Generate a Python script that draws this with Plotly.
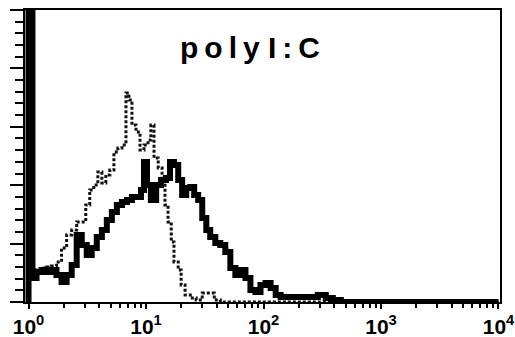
import plotly.graph_objects as go

# Fluorescence intensity (log scale) and event counts
solid_x = [1.0, 1.0, 1.08, 1.17, 1.29, 1.43, 1.57, 1.73, 1.91, 2.11, 2.33, 2.57, 2.84, 3.13,
           3.45, 3.81, 4.21, 4.64, 5.12, 5.65, 6.24, 6.88, 7.59, 8.38, 9.06, 9.61, 10.2,
           11.0, 12.2, 13.4, 14.8, 16.0, 17.3, 18.8, 20.3, 22.0, 23.8, 25.7, 27.8, 30.1,
           32.6, 35.2, 38.9, 42.9, 47.3, 52.2, 57.6, 63.6, 70.2, 77.4, 85.4, 94.3, 104,
           115, 127, 140, 170, 207, 252, 290, 339, 389, 455, 10000]
solid_y = [0, 300, 20.5, 25.7, 27.4, 25.7, 27.4, 23.1, 17.1, 23.1, 31.7, 57.4, 48.8, 40.2,
           46.2, 55.7, 61.6, 70.2, 77.1, 83.1, 85.6, 87.3, 89.9, 89.9, 95.9, 119.9, 100.2,
           87.3, 100.2, 104.5, 106.2, 119.9, 117.3, 104.5, 91.6, 97.6, 98.5, 91.6, 87.3,
           71.9, 61.6, 55.7, 50.5, 48.8, 42.8, 29.1, 23.1, 27.4, 20.5, 10.3, 8.6, 14.6,
           16.3, 12.0, 6.0, 4.3, 4.3, 4.3, 4.3, 6.0, 3.4, 1.7, 0, 0]

dotted_x = [1.0, 1.0, 1.08, 1.17, 1.29, 1.43, 1.57, 1.73, 1.91, 2.11, 2.33, 2.57, 2.84,
            3.07, 3.32, 3.59, 3.89, 4.21, 4.55, 4.92, 5.33, 5.76, 6.24, 6.75, 7.16, 7.59,
            8.22, 8.89, 9.61, 10.4, 11.0, 11.7, 12.7, 13.7, 14.5, 15.4, 16.4, 17.3, 18.8,
            19.9, 21.5, 23.8, 26.7, 30.1, 33.9, 38.1, 42.9, 10000]
dotted_y = [0, 300, 23.1, 27.4, 29.1, 30.0, 30.8, 34.2, 46.2, 57.4, 61.6, 68.5, 68.5,
            83.1, 95.9, 100.2, 111.3, 101.9, 108.7, 113.0, 128.4, 131.9, 134.4, 178.9,
            172.9, 151.5, 145.6, 130.1, 134.4, 138.7, 151.5, 123.3, 114.7, 104.5, 83.1,
            68.5, 51.4, 34.2, 27.4, 14.6, 6.0, 3.4, 1.7, 7.7, 7.7, 1.7, 0, 0]

x_tickvals = [1, 10, 100, 1000, 10000]
x_ticktext = ["<b>10<sup>0</sup></b>", "<b>10<sup>1</sup></b>", "<b>10<sup>2</sup></b>",
              "<b>10<sup>3</sup></b>", "<b>10<sup>4</sup></b>"]
title_text = "p\u2009o\u2009l\u2009y I\u2009:\u2009C"

fig = go.Figure()
fig.add_trace(go.Scatter(x=dotted_x, y=dotted_y, mode="lines", line_shape="hv",
                         line=dict(color="#111111", width=3, dash="3px,2px"),
                         showlegend=False, hoverinfo="skip"))
fig.add_trace(go.Scatter(x=solid_x, y=solid_y, mode="lines", line_shape="hv",
                         line=dict(color="black", width=6),
                         showlegend=False, hoverinfo="skip"))

fig.update_layout(
    width=515, height=337,
    margin=dict(l=25, r=15, t=10, b=35, autoexpand=False),
    plot_bgcolor="white", paper_bgcolor="white",
    font=dict(family="Arial", color="black"),
    annotations=[dict(text="<b>" + title_text + "</b>", x=0.474, y=0.87,
                      xref="paper", yref="paper", showarrow=False,
                      font=dict(size=30, family="Arial", color="black"),
                      xanchor="center", yanchor="middle")],
)
fig.update_xaxes(type="log", range=[-0.03, 4.013], showline=True, linecolor="black",
                 linewidth=2, mirror=True, showgrid=False, zeroline=False,
                 automargin=False, ticklabeloverflow="allow",
                 tickvals=x_tickvals, ticktext=x_ticktext, ticks="outside",
                 ticklen=5, tickwidth=2, tickcolor="black",
                 tickfont=dict(size=21, family="Arial", color="black"),
                 minor=dict(ticks="outside", ticklen=4, tickwidth=2, tickcolor="black",
                            dtick="D1", showgrid=False))
fig.update_yaxes(range=[0, 250], showline=True, linecolor="black", linewidth=2,
                 mirror=True, showgrid=False, zeroline=False, showticklabels=False,
                 automargin=False,
                 dtick=50, ticks="outside", ticklen=13, tickwidth=2, tickcolor="black",
                 minor=dict(ticks="outside", ticklen=8, tickwidth=2, tickcolor="black",
                            dtick=10, showgrid=False))

fig.write_html("out.html", config={"displayModeBar": False, "staticPlot": True},
               post_script="document.body.style.margin='0px';document.body.style.overflow='hidden';")
